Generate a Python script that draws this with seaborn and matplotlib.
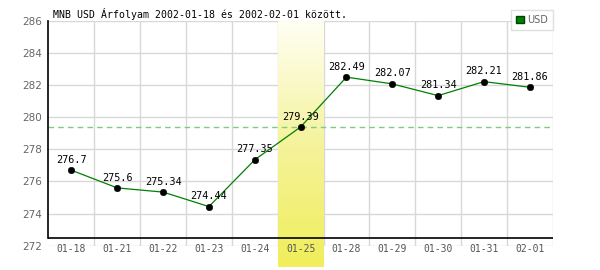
import numpy as np
import pandas as pd
import matplotlib
matplotlib.use("Agg")
import matplotlib.pyplot as plt
import seaborn as sns
from matplotlib.patches import Patch
from matplotlib.colors import LinearSegmentedColormap
import matplotlib.transforms as mtransforms

dates = ["01-18", "01-21", "01-22", "01-23", "01-24", "01-25",
         "01-28", "01-29", "01-30", "01-31", "02-01"]
usd = [276.7, 275.6, 275.34, 274.44, 277.35, 279.39,
       282.49, 282.07, 281.34, 282.21, 281.86]
labels = ["276.7", "275.6", "275.34", "274.44", "277.35", "279.39",
          "282.49", "282.07", "281.34", "282.21", "281.86"]
highlight = "01-25"
yticks = [272, 274, 276, 278, 280, 282, 284, 286]
title = "MNB USD Árfolyam 2002-01-18 és 2002-02-01 között."

sns.set_style("white")
plt.rcParams['font.family'] = ['DejaVu Sans']

df = pd.DataFrame({"date": dates, "usd": usd})
df["x"] = np.arange(len(dates))

W, H = 600, 270
fig = plt.figure(figsize=(6, 2.7), dpi=100)
ax = fig.add_axes([48.5 / W, 1 - 245.8 / H, (552.7 - 48.5) / W, (245.8 - 20.7) / H])
ax.set_facecolor("white")

ymin, ymax = 272, 286
xmin, xmax = -0.5, len(dates) - 0.5

# grid
ax.set_yticks(yticks)
ax.set_xticks(df["x"])
ax.set_xticks(np.arange(0.5, len(dates) + 0.5, 1.0), minor=True)
ax.grid(which="major", axis="y", color="#d8d8d8", lw=1)
ax.grid(which="minor", axis="x", color="#d8d8d8", lw=1)
ax.grid(which="major", axis="x", visible=False)
ax.set_axisbelow(True)

# highlight band (gradient)
hi = dates.index(highlight)
cmap = LinearSegmentedColormap.from_list("band", ["#f0ee5a", "#f5f39c", "#fffff4"])
grad = np.linspace(0, 1, 256).reshape(-1, 1)
band_bottom = ymin - (267 - 245.8) / 16.08
im = ax.imshow(grad, extent=[hi - 0.5, hi + 0.5, band_bottom, ymax], origin="lower",
               cmap=cmap, aspect="auto", zorder=1, interpolation="bilinear")
im.set_clip_on(False)
ax.set_xlim(xmin, xmax)
ax.set_ylim(ymin, ymax)

# reference dashed line at highlighted value
ax.axhline(usd[hi], color="#7fcc7f", lw=1, ls=(0, (4, 3)), zorder=1.5)

# line + markers
sns.lineplot(data=df, x="x", y="usd", ax=ax, color="#008000", lw=0.9, zorder=2, legend=False)
sns.scatterplot(data=df, x="x", y="usd", ax=ax, color="black", s=22, edgecolor="black",
                zorder=3, legend=False)

for xi, yi, lab in zip(df["x"], df["usd"], labels):
    ax.annotate(lab, (xi, yi), xytext=(0, 7.5), textcoords="offset points",
                ha="center", va="center", fontsize=7.3, family="DejaVu Sans Mono",
                color="black", zorder=4)

# axes lines
x_axis_val = ymin + (245.8 - 238.3) / 16.08
ax.axhline(x_axis_val, color="black", lw=1.2, zorder=3.5)
for s in ["top", "right", "bottom"]:
    ax.spines[s].set_visible(False)
ax.spines["left"].set_color("black")
ax.spines["left"].set_linewidth(1.2)
ax.spines["left"].set_bounds(x_axis_val, ymax)

# x tick labels drawn as text above the band
ax.set_xticklabels([])
trans = mtransforms.blended_transform_factory(ax.transData, fig.transFigure)
for xi, d in zip(df["x"], dates):
    ax.text(xi, 1 - 248.5 / H, d, transform=trans, ha="center", va="center",
            family="DejaVu Sans Mono", fontsize=7, color="#555555", zorder=5, clip_on=False)

ax.set_yticklabels([str(v) for v in yticks], fontsize=7.5, color="#666666")
ax.tick_params(axis="x", which="both", length=0)
ax.tick_params(axis="y", length=0, pad=4.5)
ax.set_xlabel("")
ax.set_ylabel("")

fig.text(53 / W, 1 - 14 / H, title, family="DejaVu Sans Mono", fontsize=7.15,
         color="black", ha="left", va="center")

leg = fig.legend(handles=[Patch(facecolor="#008000", edgecolor="#004000", label="USD")],
                 loc="upper right", bbox_to_anchor=(552.5 / W, 1 - 10 / H),
                 frameon=True, fancybox=False, fontsize=7, handlelength=0.8,
                 handleheight=0.8, handletextpad=0.3, borderpad=0.5,
                 labelcolor="#666666", borderaxespad=0)
leg.get_frame().set_edgecolor("#d8d8d8")
leg.get_frame().set_linewidth(1)

fig.savefig("out.png", dpi=100)
